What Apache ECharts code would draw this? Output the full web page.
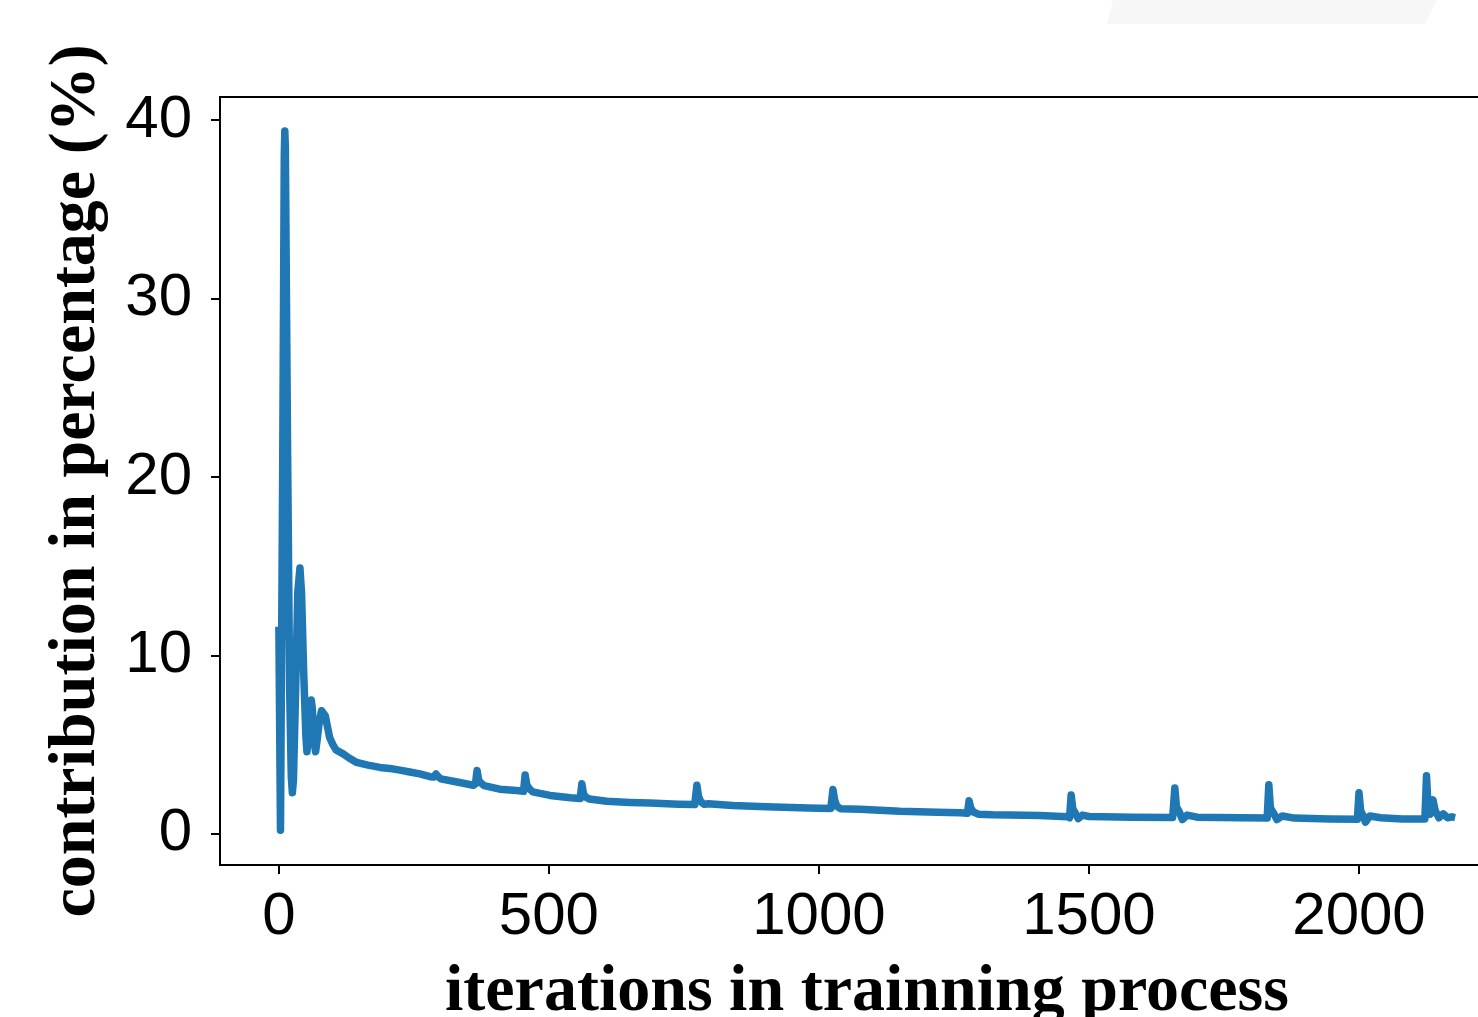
<!DOCTYPE html>
<html>
<head>
<meta charset="utf-8">
<script src="https://cdn.jsdelivr.net/npm/echarts@6/dist/echarts.min.js"></script>
<style>
  html, body { margin: 0; padding: 0; background: #fff; overflow: hidden; }
  #chart { width: 1540px; height: 1017px; }
</style>
</head>
<body>
<div id="chart"></div>
<script>
// iterations (x) and contribution in % (y)
const iters = [
  0, 3, 7, 10, 11, 12, 16, 20, 23, 25, 27, 31, 35, 39, 42, 46, 50, 52, 55, 58,
  60, 62, 65, 68, 71, 75, 79, 82, 86, 90, 94, 100, 106, 119, 130, 144, 165, 187, 210, 224,
  240, 261, 280, 287, 291, 295, 300, 330, 360, 364, 367, 370, 374, 380, 409, 440, 453, 456, 459, 463,
  470, 502, 540, 558, 561, 564, 568, 575, 607, 650, 687, 740, 770, 774, 777, 781, 788, 795, 840, 903,
  980, 1022, 1026, 1029, 1033, 1040, 1076, 1150, 1220, 1261, 1275, 1278, 1281, 1286, 1295, 1322, 1409, 1460, 1464, 1467,
  1470, 1474, 1480, 1488, 1500, 1580, 1655, 1656, 1659, 1662, 1667, 1673, 1682, 1700, 1780, 1830, 1833, 1836, 1841, 1848,
  1858, 1880, 1946, 1997, 2000, 2003, 2008, 2012, 2020, 2040, 2080, 2122, 2125, 2128, 2132, 2137, 2141, 2148, 2156, 2164,
  2172, 2178
];
const contrib = [
  11.6, 0.2, 20, 38, 39.4, 38.5, 22, 8, 3.2, 2.3, 3, 8, 13.5, 14.9, 13.5, 9, 5.5, 4.6, 5.5, 7.2,
  7.5, 7, 5.2, 4.6, 5.3, 6.3, 6.9, 7.0, 6.6, 6.0, 5.4, 5.0, 4.7, 4.48, 4.25, 4.0, 3.85, 3.72, 3.64, 3.57,
  3.48, 3.36, 3.2, 3.18, 3.35, 3.2, 3.08, 2.9, 2.72, 2.8, 3.55, 3.0, 2.85, 2.7, 2.5, 2.42, 2.38, 3.3, 2.75, 2.55,
  2.35, 2.15, 2.02, 1.98, 2.8, 2.25, 2.05, 1.95, 1.82, 1.76, 1.72, 1.66, 1.64, 2.72, 2.1, 1.8, 1.65, 1.68, 1.58, 1.51,
  1.44, 1.42, 2.48, 1.9, 1.55, 1.4, 1.38, 1.26, 1.2, 1.18, 1.15, 1.85, 1.45, 1.22, 1.1, 1.06, 1.02, 0.96, 0.9, 2.17,
  1.4, 1.2, 0.85, 1.05, 0.97, 0.93, 0.91, 0.85, 2.56, 1.5, 1.25, 0.8, 1.05, 0.93, 0.9, 0.88, 2.75, 1.45, 1.2, 0.8,
  1.0, 0.88, 0.83, 0.82, 2.3, 1.3, 1.0, 0.65, 1.0, 0.9, 0.83, 0.83, 3.25, 1.4, 1.1, 1.9, 1.3, 0.9, 1.12, 0.9,
  0.95, 0.91
];
const xTicks = [0, 500, 1000, 1500, 2000];
const yTicks = [0, 10, 20, 30, 40];

const chart = echarts.init(document.getElementById("chart"));

const tickFont = { fontFamily: "Liberation Sans", fontSize: 60, color: "#000" };
const titleFont = { fontFamily: "Liberation Serif", fontWeight: "bold", fontSize: 66, color: "#000" };

const option = {
  backgroundColor: "#fff",
  animation: false,
  graphic: [
    {
      type: "polygon",
      shape: { points: [[1107, 24], [1113, 0], [1437, 0], [1425, 24]] },
      style: { fill: "#f7f7f7" },
      silent: true,
    },
  ],
  grid: {
    left: 220,
    top: 97,
    width: 1294,
    height: 768,
    containLabel: false,
    outerBoundsMode: "none",
    show: true,
    borderColor: "#000",
    borderWidth: 2,
    backgroundColor: "transparent",
  },
  xAxis: {
    type: "value",
    min: -109,
    max: 2287,
    name: "iterations in trainning process",
    nameLocation: "middle",
    nameGap: 95,
    nameTextStyle: titleFont,
    axisLine: { show: true, onZero: false, lineStyle: { color: "#000", width: 2 } },
    axisTick: { show: true, inside: false, length: 9, lineStyle: { color: "#000", width: 2 }, customValues: xTicks },
    axisLabel: { ...tickFont, margin: 22, customValues: xTicks, formatter: (v) => String(v) },
    splitLine: { show: false },
  },
  yAxis: {
    type: "value",
    min: -1.75,
    max: 41.3,
    name: "contribution in percentage (%)",
    nameLocation: "middle",
    nameRotate: 90,
    nameGap: 110,
    nameTextStyle: titleFont,
    axisLine: { show: true, onZero: false, lineStyle: { color: "#000", width: 2 } },
    axisTick: { show: true, inside: false, length: 9, lineStyle: { color: "#000", width: 2 }, customValues: yTicks },
    axisLabel: { ...tickFont, margin: 28, customValues: yTicks, formatter: (v) => String(v) },
    splitLine: { show: false },
  },
  series: [
    {
      type: "line",
      data: iters.map((x, i) => [x, contrib[i]]),
      showSymbol: false,
      symbol: "none",
      lineStyle: { color: "#1f77b4", width: 7.5, join: "round" },
    },
  ],
};

chart.setOption(option);
</script>
</body>
</html>
